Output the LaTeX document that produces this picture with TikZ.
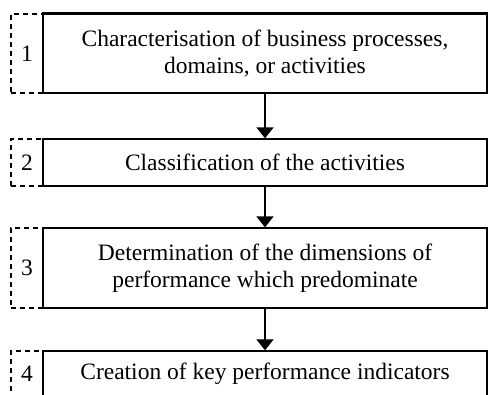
\documentclass[tikz,border=0pt]{standalone}
\usepackage{fontspec}
\setmainfont{Liberation Serif}
\usepackage{tikz}
\usetikzlibrary{arrows.meta}
\usetikzlibrary{calc, positioning}

\begin{document}
\begin{tikzpicture}[x=1pt,y=-1pt,
                    stage box/.style={rectangle,draw,line width=1.3pt,fill=white,align=center,
                                      minimum width=444pt,font=\fontsize{23.5}{27}\selectfont},
                    num box/.style={rectangle,draw,dashed,dash pattern=on 5pt off 4pt,line width=1.2pt,
                                    minimum width=32pt,font=\fontsize{23.5}{27}\selectfont},
                    flow arrow/.style={-{Triangle[width=17pt,length=11pt]},line width=1.4pt}]
\useasboundingbox (0,0) rectangle (489,394);
\clip (0,0) rectangle (489,394);

 \foreach \n/\yc/\boxh/\txt in {1/53.5/79/{Characterisation of business processes,\\ domains, or activities},
                                2/162.5/47/{Classification of the activities},
                                3/268/80/{Determination of the dimensions of\\ performance which predominate},
                                4/373.5/45/{Creation of key performance indicators}}
    {\node[num box,minimum height=\boxh pt] (num\n) at (27,\yc) {\n};
     \node[stage box,minimum height=\boxh pt] (stage\n) at (265,\yc) {\txt};}

\draw[line width=3pt] (stage1.north west) -- (stage1.north east);

\foreach \a/\b in {1/2,2/3,3/4}
   \draw[flow arrow] (stage\a.south) -- (stage\b.north);
\end{tikzpicture}
\end{document}
